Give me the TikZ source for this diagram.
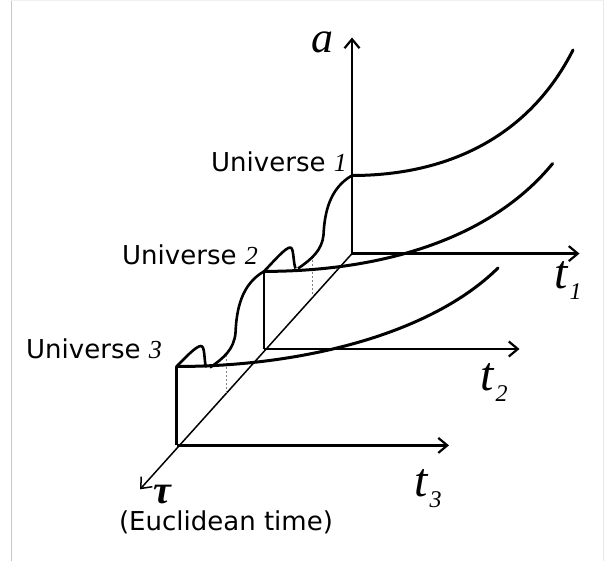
\documentclass[tikz,border=0pt]{standalone}
\usepackage{fontspec}
\setmainfont{DejaVu Sans}
\newfontfamily\serifit{Liberation Serif}
\usetikzlibrary{arrows.meta}
\begin{document}
\begin{tikzpicture}[x=1pt,y=-1pt,
  axis/.style={line width=2.2pt,-{Straight Barb[length=9pt,width=15pt]}},
  tauaxis/.style={line width=1.5pt,-{Straight Barb[length=9pt,width=15pt]}},
  wall/.style={line width=2.6pt},
  univ/.style={line width=3pt,line cap=round},
  wave/.style={line width=2.6pt,line join=round},
  guide/.style={line width=0.7pt,gray,dash pattern=on 2pt off 2pt},
  ulab/.style={inner sep=0pt,font=\fontsize{26}{30}\selectfont},
  alab/.style={inner sep=0pt,font=\serifit\itshape\fontsize{44}{48}\selectfont},
  tlab/.style={inner sep=0pt,font=\serifit\itshape\fontsize{48}{52}\selectfont},
  frame/.style={line width=1pt}]
\useasboundingbox (0,0) rectangle (610,561);
% faint frame
\draw[frame,gray!45] (11,0) -- (11,561);
\draw[frame,gray!12] (11,0.5) -- (603,0.5);
\draw[frame,gray!18] (603,0) -- (603,561);

% coordinates
\coordinate (O1) at (352,253.6);
\coordinate (O2) at (264,349);
\coordinate (O3) at (176.5,445.4);
\coordinate (atip) at (352,37.5);
\coordinate (t1tip) at (579.5,253.6);
\coordinate (t2tip) at (519.5,349);
\coordinate (t3tip) at (449,445.4);
\coordinate (tautip) at (140,489.3);
\coordinate (U1s) at (352,175.5);
\coordinate (U1e) at (573,50);
\coordinate (U2s) at (264,271.4);
\coordinate (U2e) at (552.6,163.6);
\coordinate (U3s) at (176.5,366.5);
\coordinate (U3e) at (498,268);
\coordinate (d1t) at (312.7,260);
\coordinate (d1b) at (312.7,297.3);
\coordinate (d2t) at (226,355);
\coordinate (d2b) at (226,393.4);

% axes
\draw[tauaxis] (O1) -- (tautip);
\draw[axis] (O1) -- (atip);
\draw[axis] (O1) -- (t1tip);
\draw[axis] (O2) -- (t2tip);
\draw[axis] (O3) -- (t3tip);
\draw[wall] (O2) -- (U2s);
\draw[wall] (O3) -- (U3s);

% dotted guides
\draw[guide] (d1t) -- (d1b);
\draw[guide] (d2t) -- (d2b);

% universe curves
\draw[univ] (U1s) .. controls (450,175.5) and (530,135) .. (U1e);
\draw[univ] (U2s) .. controls (380,271.4) and (490,240) .. (U2e);
\draw[univ] (U3s) .. controls (300,366.5) and (430,335) .. (U3e);

% bumps
\draw[wave] (U2s) .. controls (274,261) and (285,248) .. (290,247.5)
   .. controls (294,247) and (293,262) .. (295.5,268.5);
\draw[wave] (U3s) .. controls (185,358) and (196,346) .. (201,346)
   .. controls (205,346) and (204,360) .. (206,367.5);

% transitions
\draw[wave] (298,268.5) .. controls (312,259) and (322,250) .. (323.5,235)
   .. controls (324.5,212) and (330,188) .. (U1s);
\draw[wave] (210,367.5) .. controls (224,358) and (234,349) .. (235.5,333)
   .. controls (236.5,308) and (242,284) .. (U2s);

% labels
\node[alab,anchor=base] (alabel) at (322.5,53) {a};
\node[ulab,anchor=base east] (u1) at (347,172) {Universe {\serifit\itshape 1}};
\node[ulab,anchor=base east] (u2) at (258,264.5) {Universe {\serifit\itshape 2}};
\node[ulab,anchor=base east] (u3) at (162,358) {Universe {\serifit\itshape 3}};
\node[tlab,anchor=base west] (t1) at (554,288) {t\kern2pt\raisebox{-11pt}{\fontsize{24}{24}\selectfont 1}};
\node[tlab,anchor=base west] (t2) at (480,390) {t\kern2pt\raisebox{-11pt}{\fontsize{24}{24}\selectfont 2}};
\node[tlab,anchor=base west] (t3) at (414,496) {t\kern2pt\raisebox{-11pt}{\fontsize{24}{24}\selectfont 3}};
\node[inner sep=0pt,anchor=base,font=\serifit\bfseries\itshape\fontsize{40}{44}\selectfont] (tau) at (162,503) {τ};
\node[ulab,anchor=base] (eu) at (226,530) {(Euclidean time)};
\end{tikzpicture}
\end{document}
